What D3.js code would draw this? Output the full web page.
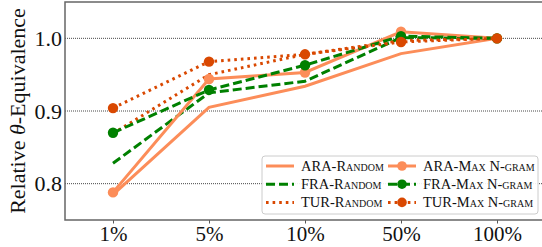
<!DOCTYPE html>
<meta charset="utf-8">
<style>
body { margin: 0; background: #fff; }
text { font-family: "Liberation Serif", "Times New Roman", serif; fill: #111; }
</style>
<svg width="542" height="247"></svg>
<script src="https://d3js.org/d3.v7.min.js"></script>
<script>

var categories = ["1%", "5%", "10%", "50%", "100%"];
var yTicks = [0.8, 0.9, 1.0];

var araRandom = [0.785, 0.905, 0.934, 0.979, 1.0];
var fraRandom = [0.828, 0.925, 0.941, 1.001, 1.0];
var turRandom = [0.869, 0.950, 0.978, 0.997, 1.0];
var araMax    = [0.788, 0.944, 0.953, 1.009, 1.0];
var fraMax    = [0.870, 0.929, 0.963, 1.003, 1.0];
var turMax    = [0.904, 0.968, 0.978, 0.995, 1.0];

var ARA = "#fc8d59", FRA = "#008000", TUR = "#d94801";

var series = [
  {name: "ARA-Random",     values: araRandom, color: ARA, dash: null,    marker: false},
  {name: "FRA-Random",     values: fraRandom, color: FRA, dash: "9,4",   marker: false},
  {name: "TUR-Random",     values: turRandom, color: TUR, dash: "2.6,4", marker: false},
  {name: "ARA-Max N-gram", values: araMax,    color: ARA, dash: null,    marker: true},
  {name: "FRA-Max N-gram", values: fraMax,    color: FRA, dash: "9,4",   marker: true},
  {name: "TUR-Max N-gram", values: turMax,    color: TUR, dash: "2.6,4", marker: true}
];

var svg = d3.select("svg"),
    margin = {top: 2, right: -3, bottom: 27, left: 65},
    width = +svg.attr("width") - margin.left - margin.right,
    height = +svg.attr("height") - margin.top - margin.bottom;

var x = d3.scalePoint().domain(categories).range([48, width - 48]),
    y = d3.scaleLinear().domain([0.75, 1.05]).range([height, 0]);

var g = svg.append("g")
    .attr("transform", "translate(" + margin.left + "," + margin.top + ")");

// grid
g.selectAll(".grid")
  .data(yTicks)
  .enter().append("line")
    .attr("x1", 0).attr("x2", width)
    .attr("y1", function(d) { return y(d); })
    .attr("y2", function(d) { return y(d); })
    .attr("stroke", "#333")
    .attr("stroke-width", 0.9)
    .attr("stroke-dasharray", "1,1");

// axes
var xAxis = g.append("g")
    .attr("transform", "translate(0," + height + ")")
    .call(d3.axisBottom(x).tickSize(3.5).tickPadding(3));
xAxis.select(".domain").remove();
xAxis.selectAll("line").attr("stroke", "#444").attr("stroke-width", 0.9);
xAxis.selectAll("text").attr("font-size", 21).attr("font-family", "Liberation Serif").attr("fill", "#111");

var yAxis = g.append("g")
    .call(d3.axisLeft(y).tickValues(yTicks).tickFormat(d3.format(".1f")).tickSize(0).tickPadding(3));
yAxis.select(".domain").remove();
yAxis.selectAll("text").attr("font-size", 22).attr("font-family", "Liberation Serif").attr("fill", "#111");

// spines
g.append("path")
    .attr("d", "M" + width + ",0H0V" + height + "H" + width)
    .attr("fill", "none")
    .attr("stroke", "#666")
    .attr("stroke-width", 1.5);

// lines
var line = d3.line()
    .x(function(d, i) { return x(categories[i]); })
    .y(function(d) { return y(d); });

series.forEach(function(s) {
  g.append("path")
      .datum(s.values)
      .attr("fill", "none")
      .attr("stroke", s.color)
      .attr("stroke-width", 3)
      .attr("stroke-dasharray", s.dash)
      .attr("d", line);
  if (s.marker) {
    g.selectAll(null)
      .data(s.values)
      .enter().append("circle")
        .attr("cx", function(d, i) { return x(categories[i]); })
        .attr("cy", function(d) { return y(d); })
        .attr("r", 5.2)
        .attr("fill", s.color);
  }
});

// y label
svg.append("text")
    .attr("transform", "translate(25," + (margin.top + height / 2) + ") rotate(-90)")
    .attr("text-anchor", "middle")
    .attr("font-size", 22)
    .html('Relative <tspan font-style="italic">θ</tspan>-Equivalence');

// legend
var legend = svg.append("g").attr("transform", "translate(262,156)");
legend.append("rect")
    .attr("width", 276).attr("height", 58)
    .attr("rx", 3)
    .attr("fill", "#fff").attr("fill-opacity", 0.9)
    .attr("stroke", "#ccc").attr("stroke-width", 1);

series.forEach(function(s, i) {
  var col = Math.floor(i / 3), row = i % 3;
  var item = legend.append("g")
      .attr("transform", "translate(" + (4 + col * 122) + "," + (10 + row * 18.2) + ")");
  item.append("line")
      .attr("x1", 0).attr("x2", 28)
      .attr("stroke", s.color).attr("stroke-width", 3)
      .attr("stroke-dasharray", s.dash);
  if (s.marker) {
    item.append("circle").attr("cx", 14).attr("r", 4.8).attr("fill", s.color);
  }
  item.append("text")
      .attr("x", 35).attr("dy", "0.35em")
      .attr("font-size", 14.5)
      .attr("font-variant", "small-caps")
      .text(s.name);
});

</script>
